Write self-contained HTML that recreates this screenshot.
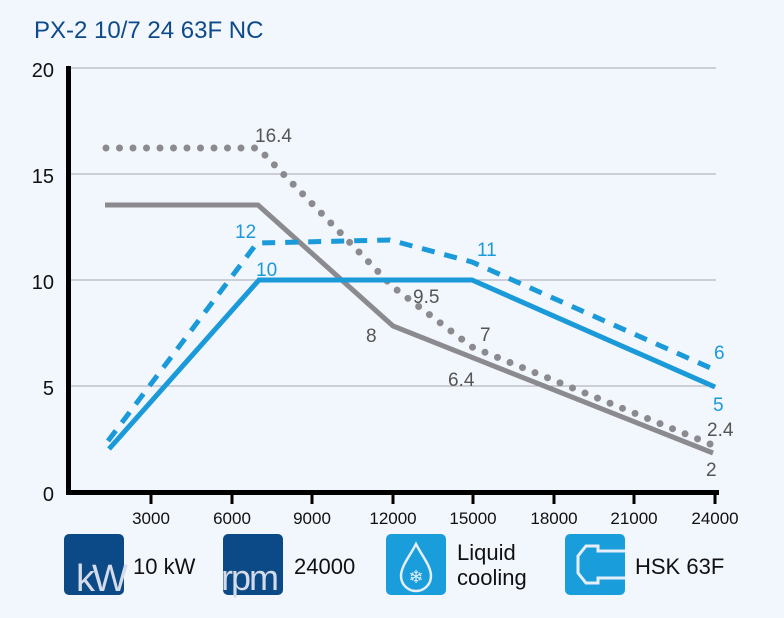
<!DOCTYPE html>
<html><head><meta charset="utf-8"><style>
body{margin:0;background:#f2f6fd;}
svg{display:block;font-family:"Liberation Sans",sans-serif;}
</style></head><body>
<svg width="784" height="618" viewBox="0 0 784 618">
<rect width="784" height="618" fill="#f2f6fd"/>
<text x="34" y="38" font-size="24" fill="#0d4a8a">PX-2 10/7 24 63F NC</text>
<g stroke="#a8a8b0" stroke-width="1">
<line x1="70" y1="68" x2="716" y2="68"/>
<line x1="70" y1="174" x2="716" y2="174"/>
<line x1="70" y1="280" x2="716" y2="280"/>
<line x1="70" y1="386" x2="716" y2="386"/>
</g>
<g font-size="20" fill="#111" text-anchor="end">
<text x="54" y="77">20</text><text x="54" y="183">15</text><text x="54" y="289">10</text><text x="54" y="395">5</text><text x="54" y="501">0</text>
</g>
<line x1="68.5" y1="66" x2="68.5" y2="495" stroke="#000" stroke-width="5"/>
<line x1="66" y1="492.5" x2="719" y2="492.5" stroke="#000" stroke-width="5"/>
<g stroke="#000" stroke-width="3">
<line x1="151" y1="492" x2="151" y2="504"/><line x1="232" y1="492" x2="232" y2="504"/><line x1="312" y1="492" x2="312" y2="504"/><line x1="393" y1="492" x2="393" y2="504"/><line x1="473" y1="492" x2="473" y2="504"/><line x1="554" y1="492" x2="554" y2="504"/><line x1="634" y1="492" x2="634" y2="504"/><line x1="715" y1="492" x2="715" y2="504"/>
</g>
<g font-size="17" fill="#111" text-anchor="middle">
<text x="151" y="524">3000</text><text x="232" y="524">6000</text><text x="312" y="524">9000</text><text x="393" y="524">12000</text><text x="473" y="524">15000</text><text x="554" y="524">18000</text><text x="634" y="524">21000</text><text x="715" y="524">24000</text>
</g>
<g fill="none" stroke-width="5">
<polyline points="105,205 258,205 393,326 713,453" stroke="#8a8a8f"/>
<polyline points="106,148 258,148 393,287 472,347 715,446" stroke="#8a8a8f" stroke-dasharray="0 13.5" stroke-linecap="round" stroke-width="7"/>
<polyline points="109,449 259,280 472,280 715,387" stroke="#1a9ad8"/>
<polyline points="108,441 257,243 390,240 472,262 715,370" stroke="#1a9ad8" stroke-dasharray="13 10"/>
</g>
<g font-size="19" fill="#555">
<text x="255" y="142">16.4</text><text x="413" y="303">9.5</text><text x="366" y="342">8</text><text x="480" y="341">7</text><text x="448" y="386">6.4</text><text x="707" y="436">2.4</text><text x="706" y="476">2</text>
</g>
<g font-size="19" fill="#1a9ad8">
<text x="235" y="238">12</text><text x="256" y="276">10</text><text x="477" y="256">11</text><text x="714" y="359">6</text><text x="713" y="411">5</text>
</g>
<rect x="64" y="534" width="60" height="61" rx="5" fill="#0b4a86"/>
<text x="76" y="591" font-size="38" fill="#d5dbe8" letter-spacing="-3">kW</text>
<text x="133" y="574" font-size="22" fill="#111">10 kW</text>
<rect x="223" y="534" width="60" height="61" rx="5" fill="#0b4a86"/>
<text x="221" y="590" font-size="36" fill="#d5dbe8" letter-spacing="-2">rpm</text>
<text x="294" y="574" font-size="22" fill="#111">24000</text>
<rect x="386" y="534" width="60" height="61" rx="5" fill="#1a9ddb"/>
<path d="M416,544 C410,556 401,566 401,576 A15,15 0 0 0 431,576 C431,566 422,556 416,544Z" fill="none" stroke="#e6eef8" stroke-width="2.5"/>
<text x="416" y="583" font-size="18" fill="#e6eef8" text-anchor="middle">❄</text>
<text x="457" y="560" font-size="22" fill="#111">Liquid</text>
<text x="457" y="585" font-size="22" fill="#111">cooling</text>
<rect x="565" y="534" width="60" height="61" rx="5" fill="#1a9ddb"/>
<path d="M625,551 L598,551 L598,546 L586,546 L578,556 L578,573 L586,583 L598,583 L598,578 L625,578" fill="none" stroke="#e6eef8" stroke-width="3"/>
<text x="635" y="574" font-size="22" fill="#111">HSK 63F</text>
</svg>
</body></html>
